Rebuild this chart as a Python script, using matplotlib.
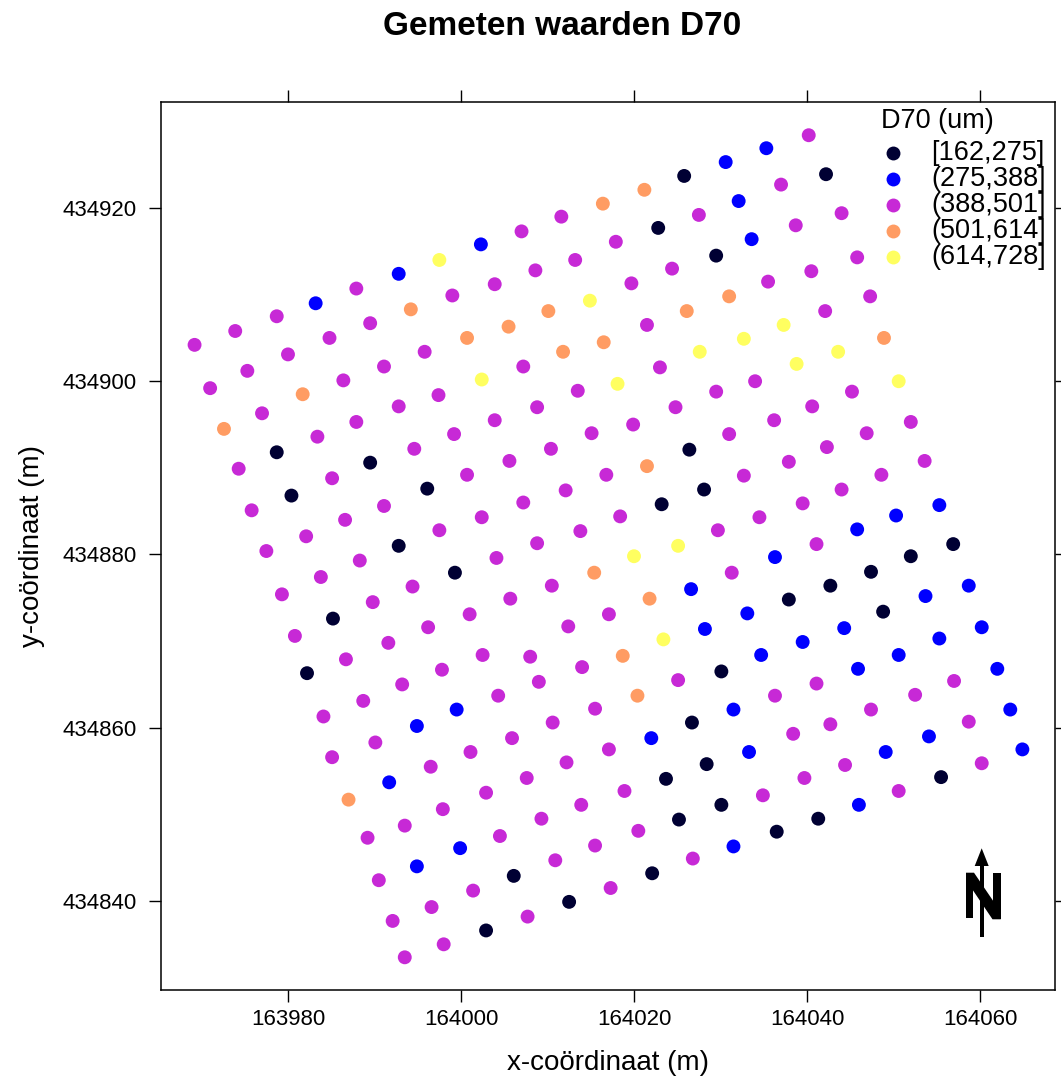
import matplotlib.pyplot as plt
from matplotlib.patches import Polygon
from matplotlib.lines import Line2D

plt.rcParams['font.family'] = ['Liberation Sans', 'DejaVu Sans']

# Sample locations (RD coordinates, m), one line per grid row
easting = [
    163969.2, 163973.9, 163978.7, 163983.2, 163987.9, 163992.8, 163997.5, 164002.3, 164007.0, 164011.6, 164016.4, 164021.2, 164025.8, 164030.6, 164035.3, 164040.2,
    163971.0, 163975.3, 163980.0, 163984.8, 163989.5, 163994.2, 163999.0, 164003.9, 164008.6, 164013.2, 164017.9, 164022.8, 164027.5, 164032.1, 164037.0, 164042.2,
    163972.6, 163977.0, 163981.7, 163986.4, 163991.1, 163995.8, 164000.7, 164005.5, 164010.1, 164014.9, 164019.7, 164024.4, 164029.5, 164033.6, 164038.7, 164044.0,
    163974.3, 163978.7, 163983.4, 163987.9, 163992.8, 163997.4, 164002.4, 164007.2, 164011.8, 164016.5, 164021.5, 164026.1, 164031.0, 164035.5, 164040.5, 164045.8,
    163975.8, 163980.4, 163985.1, 163989.5, 163994.6, 163999.2, 164003.9, 164008.8, 164013.5, 164018.1, 164023.0, 164027.6, 164032.7, 164037.3, 164042.1, 164047.3,
    163977.5, 163982.1, 163986.6, 163991.1, 163996.1, 164000.7, 164005.6, 164010.4, 164015.1, 164019.9, 164024.8, 164029.5, 164034.0, 164038.8, 164043.6, 164048.9,
    163979.3, 163983.8, 163988.3, 163992.8, 163997.5, 164002.4, 164007.2, 164012.1, 164016.8, 164021.5, 164026.4, 164031.0, 164036.2, 164040.6, 164045.2, 164050.6,
    163980.8, 163985.2, 163989.8, 163994.4, 163999.3, 164004.1, 164008.8, 164013.8, 164018.4, 164023.2, 164028.1, 164032.7, 164037.9, 164042.3, 164046.9, 164052.0,
    163982.2, 163986.7, 163991.6, 163996.2, 164001.0, 164005.7, 164010.5, 164015.4, 164020.0, 164025.1, 164029.7, 164034.5, 164039.5, 164044.0, 164048.6, 164053.6,
    163984.1, 163988.7, 163993.2, 163997.8, 164002.5, 164008.0, 164012.4, 164017.1, 164021.8, 164026.6, 164031.3, 164036.3, 164041.1, 164045.8, 164050.3, 164055.3,
    163985.1, 163990.1, 163994.9, 163999.5, 164004.3, 164009.0, 164014.0, 164018.7, 164023.4, 164028.2, 164033.1, 164037.9, 164042.7, 164047.4, 164052.0, 164056.9,
    163987.0, 163991.7, 163996.5, 164001.1, 164005.9, 164010.6, 164015.5, 164020.4, 164025.1, 164030.1, 164034.7, 164039.5, 164044.3, 164048.8, 164053.7, 164058.7,
    163989.2, 163993.5, 163997.9, 164002.9, 164007.6, 164012.2, 164017.1, 164022.0, 164026.7, 164031.5, 164036.3, 164041.1, 164045.9, 164050.6, 164055.3, 164060.2,
    163990.5, 163994.9, 163999.9, 164004.5, 164009.3, 164013.9, 164018.9, 164023.7, 164028.4, 164033.3, 164038.4, 164042.7, 164047.4, 164052.5, 164057.0, 164062.0,
    163992.1, 163996.6, 164001.4, 164006.1, 164010.9, 164015.5, 164020.5, 164025.2, 164030.1, 164034.9, 164039.7, 164044.4, 164049.1, 164054.1, 164058.7, 164063.5,
    163993.5, 163998.0, 164002.9, 164007.7, 164012.5, 164017.3, 164022.1, 164026.8, 164031.5, 164036.5, 164041.3, 164046.0, 164050.6, 164055.5, 164060.2, 164064.9,
]
northing = [
    434904.2, 434905.8, 434907.5, 434909.0, 434910.7, 434912.4, 434914.0, 434915.8, 434917.3, 434919.0, 434920.5, 434922.1, 434923.7, 434925.3, 434926.9, 434928.4,
    434899.2, 434901.2, 434903.1, 434905.0, 434906.7, 434908.3, 434909.9, 434911.2, 434912.8, 434914.0, 434916.1, 434917.7, 434919.2, 434920.8, 434922.7, 434923.9,
    434894.5, 434896.3, 434898.5, 434900.1, 434901.7, 434903.4, 434905.0, 434906.3, 434908.1, 434909.3, 434911.3, 434913.0, 434914.5, 434916.4, 434918.0, 434919.4,
    434889.9, 434891.8, 434893.6, 434895.3, 434897.1, 434898.4, 434900.2, 434901.7, 434903.4, 434904.5, 434906.5, 434908.1, 434909.8, 434911.5, 434912.7, 434914.3,
    434885.1, 434886.8, 434888.8, 434890.6, 434892.2, 434893.9, 434895.5, 434897.0, 434898.9, 434899.7, 434901.6, 434903.4, 434904.9, 434906.5, 434908.1, 434909.8,
    434880.4, 434882.1, 434884.0, 434885.6, 434887.6, 434889.2, 434890.8, 434892.2, 434894.0, 434895.0, 434897.0, 434898.8, 434900.0, 434902.0, 434903.4, 434905.0,
    434875.4, 434877.4, 434879.3, 434881.0, 434882.8, 434884.3, 434886.0, 434887.4, 434889.2, 434890.2, 434892.1, 434893.9, 434895.5, 434897.1, 434898.8, 434900.0,
    434870.6, 434872.6, 434874.5, 434876.3, 434877.9, 434879.6, 434881.3, 434882.7, 434884.4, 434885.8, 434887.5, 434889.1, 434890.7, 434892.4, 434894.0, 434895.3,
    434866.3, 434867.9, 434869.8, 434871.6, 434873.1, 434874.9, 434876.4, 434877.9, 434879.8, 434881.0, 434882.8, 434884.3, 434885.9, 434887.5, 434889.2, 434890.8,
    434861.3, 434863.1, 434865.0, 434866.7, 434868.4, 434868.2, 434871.7, 434873.1, 434874.9, 434876.0, 434877.9, 434879.7, 434881.2, 434882.9, 434884.5, 434885.7,
    434856.6, 434858.3, 434860.2, 434862.1, 434863.7, 434865.3, 434867.0, 434868.3, 434870.2, 434871.4, 434873.2, 434874.8, 434876.4, 434878.0, 434879.8, 434881.2,
    434851.7, 434853.7, 434855.5, 434857.2, 434858.8, 434860.6, 434862.2, 434863.7, 434865.5, 434866.5, 434868.4, 434869.9, 434871.5, 434873.4, 434875.2, 434876.4,
    434847.3, 434848.7, 434850.6, 434852.5, 434854.2, 434856.0, 434857.5, 434858.8, 434860.6, 434862.1, 434863.7, 434865.1, 434866.8, 434868.4, 434870.3, 434871.6,
    434842.4, 434844.0, 434846.1, 434847.5, 434849.5, 434851.1, 434852.7, 434854.1, 434855.8, 434857.2, 434859.3, 434860.4, 434862.1, 434863.8, 434865.4, 434866.8,
    434837.7, 434839.3, 434841.2, 434842.9, 434844.7, 434846.4, 434848.1, 434849.4, 434851.1, 434852.2, 434854.2, 434855.7, 434857.2, 434859.0, 434860.7, 434862.1,
    434833.5, 434835.0, 434836.6, 434838.2, 434839.9, 434841.5, 434843.2, 434844.9, 434846.3, 434848.0, 434849.5, 434851.1, 434852.7, 434854.3, 434855.9, 434857.5,
]
# D70 class of each sample (index into class_labels)
d70_class = [
    2, 2, 2, 1, 2, 1, 4, 1, 2, 2, 3, 3, 0, 1, 1, 2,
    2, 2, 2, 2, 2, 3, 2, 2, 2, 2, 2, 0, 2, 1, 2, 0,
    3, 2, 3, 2, 2, 2, 3, 3, 3, 4, 2, 2, 0, 1, 2, 2,
    2, 0, 2, 2, 2, 2, 4, 2, 3, 3, 2, 3, 3, 2, 2, 2,
    2, 0, 2, 0, 2, 2, 2, 2, 2, 4, 2, 4, 4, 4, 2, 2,
    2, 2, 2, 2, 0, 2, 2, 2, 2, 2, 2, 2, 2, 4, 4, 3,
    2, 2, 2, 0, 2, 2, 2, 2, 2, 3, 0, 2, 2, 2, 2, 4,
    2, 0, 2, 2, 0, 2, 2, 2, 2, 0, 0, 2, 2, 2, 2, 2,
    0, 2, 2, 2, 2, 2, 2, 3, 4, 4, 2, 2, 2, 2, 2, 2,
    2, 2, 2, 2, 2, 2, 2, 2, 3, 1, 2, 1, 2, 1, 1, 1,
    2, 2, 1, 1, 2, 2, 2, 3, 4, 1, 1, 0, 0, 0, 0, 0,
    3, 1, 2, 2, 2, 2, 2, 3, 2, 0, 1, 1, 1, 0, 1, 1,
    2, 2, 2, 2, 2, 2, 2, 1, 0, 1, 2, 2, 1, 1, 1, 1,
    2, 1, 1, 2, 2, 2, 2, 0, 0, 1, 2, 2, 2, 2, 2, 1,
    2, 2, 2, 0, 2, 2, 2, 0, 0, 2, 2, 2, 1, 1, 2, 1,
    2, 2, 0, 2, 0, 2, 0, 2, 1, 0, 0, 1, 2, 0, 2, 1,
]
class_labels = ["[162,275]", "(275,388]", "(388,501]", "(501,614]", "(614,728]"]
class_colors = ["#000033", "#0000FF", "#C729D6", "#FF9C63", "#FFFF60"]

x_ticks = [163980, 164000, 164020, 164040, 164060]
y_ticks = [434840, 434860, 434880, 434900, 434920]

W, H = 1061, 1089


def fpos(px, py):
    # pixel position (from top-left) -> figure fraction
    return px / W, 1 - py / H


fig = plt.figure(figsize=(W / 100, H / 100), dpi=100)
ax = fig.add_axes([161 / W, 1 - 989.7 / H, (1055 - 161) / W, (989.7 - 101.7) / H])

ax.scatter(easting, northing, c=[class_colors[k] for k in d70_class],
           s=100, linewidths=0, zorder=3)

ax.set_xlim(163965.32, 164068.67)
ax.set_ylim(434829.76, 434932.27)
ax.set_xticks(x_ticks)
ax.set_xticklabels([str(t) for t in x_ticks])
ax.set_yticks(y_ticks)
ax.set_yticklabels([str(t) for t in y_ticks])
ax.tick_params(direction="out", length=8.8, width=1.0, top=True, right=True,
               labeltop=False, labelright=False, labelsize=16)
ax.tick_params(axis="x", pad=5)
ax.tick_params(axis="y", pad=9)
for sp in ax.spines.values():
    sp.set_linewidth(1.1)

ax.set_xlabel("x-coördinaat (m)", fontsize=20, va="center")
ax.xaxis.set_label_coords(0.5, -0.0825)
ax.set_ylabel("y-coördinaat (m)", fontsize=20, va="center")
ax.yaxis.set_label_coords(-0.1443, 0.5)

fig.text(*fpos(562, 35), "Gemeten waarden D70", fontsize=24, fontweight="bold",
         ha="center", va="baseline")

# key in the top-right corner
fig.text(*fpos(881, 121), "D70 (um)", fontsize=19.5, ha="left", va="center")
for i, (lab, col) in enumerate(zip(class_labels, class_colors)):
    yy = 153 + i * 26
    fig.add_artist(Line2D([fpos(893, yy)[0]], [fpos(893, yy)[1]], marker="o",
                          ms=10, color=col, mew=0, transform=fig.transFigure))
    fig.text(*fpos(931, yy), lab, fontsize=19.5, ha="left", va="center")

# north arrow
n_parts = [
    [(966, 872.7), (973.3, 872.7), (973.3, 917.5), (966, 917.5)],
    [(993.3, 873.3), (1000.7, 873.3), (1000.7, 919.3), (993.3, 919.3)],
    [(966, 872.7), (974, 872.7), (1000.7, 912), (1000.7, 919.3), (992.5, 919.3), (966, 880)],
    [(979.5, 862), (984.2, 862), (984.2, 937.3), (979.5, 937.3)],
    [(974.7, 866), (988.7, 866), (981.7, 848.3)],
]
for part in n_parts:
    fig.add_artist(Polygon([fpos(px, py) for px, py in part], closed=True,
                           facecolor="black", edgecolor="none",
                           transform=fig.transFigure))

fig.savefig("out.png", dpi=100)
